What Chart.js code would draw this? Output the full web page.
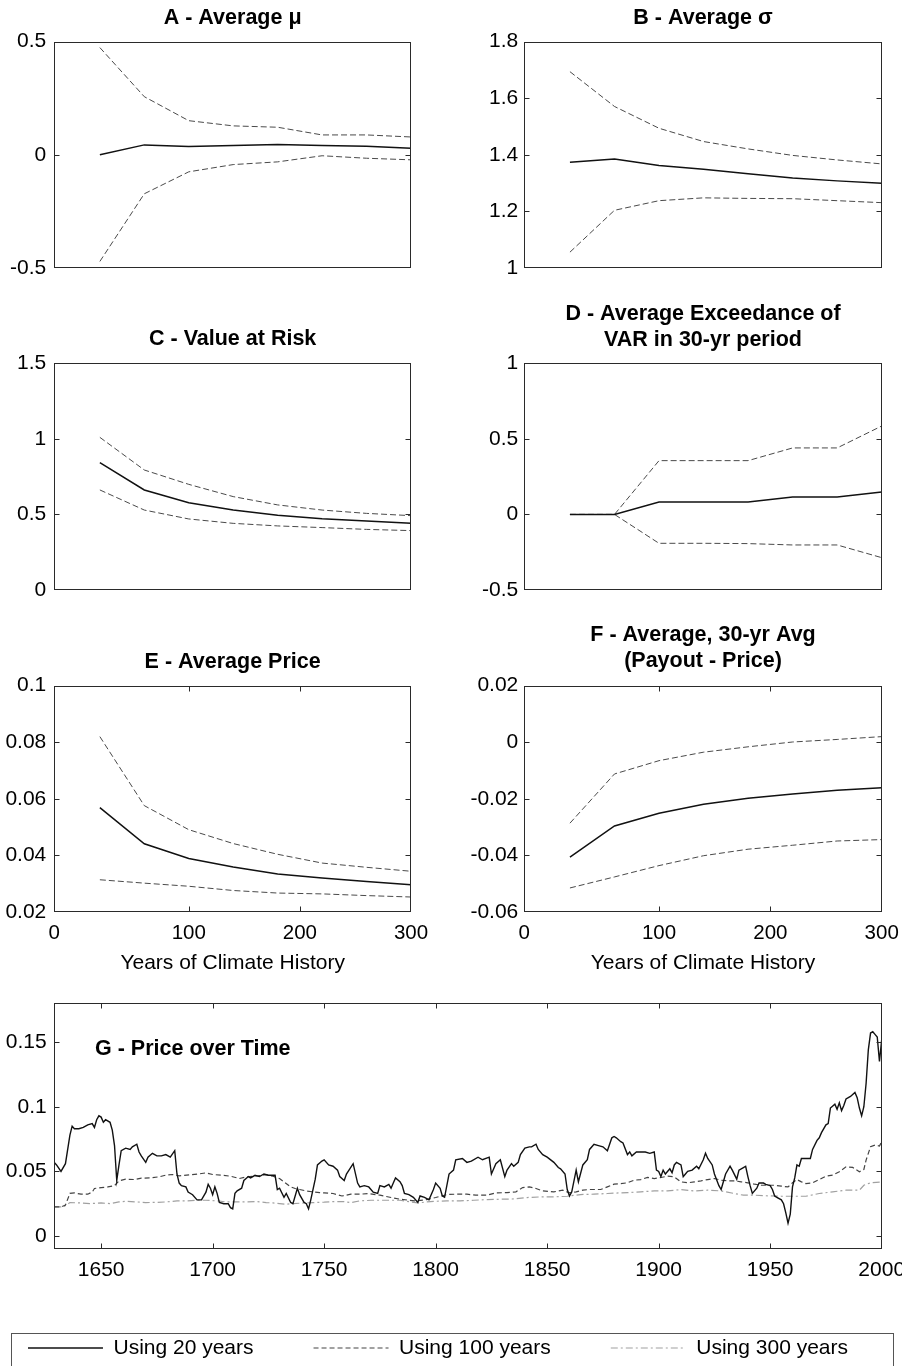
<!DOCTYPE html>
<html><head><meta charset="utf-8">
<script src="https://cdn.jsdelivr.net/npm/chart.js@4.4.1/dist/chart.umd.min.js"></script>
<style>
html,body{margin:0;padding:0;background:#fff;overflow:hidden;width:902px;height:1366px;position:relative;}
canvas{position:absolute;}
</style></head><body>
<canvas id="cA"></canvas><canvas id="cB"></canvas><canvas id="cC"></canvas>
<canvas id="cD"></canvas><canvas id="cE"></canvas><canvas id="cF"></canvas>
<canvas id="cG"></canvas>
<script>
// ---------------- DATA ----------------
const historyYears = [20, 60, 100, 140, 180, 220, 260, 300];
const panelXTickValues = [-21, 100, 200, 300];
const panelXTickLabels = ['0', '100', '200', '300'];

const muUpper = [0.474, 0.257, 0.151, 0.128, 0.122, 0.088, 0.088, 0.079];
const muMean  = [0.000, 0.044, 0.037, 0.041, 0.046, 0.041, 0.038, 0.029];
const muLower = [-0.471, -0.172, -0.075, -0.043, -0.031, -0.004, -0.015, -0.022];
const muTicks = [-0.5, 0, 0.5];
const muTickLabels = ['-0.5', '0', '0.5'];

const sigmaUpper = [1.694, 1.571, 1.494, 1.447, 1.421, 1.398, 1.382, 1.368];
const sigmaMean  = [1.374, 1.385, 1.362, 1.349, 1.333, 1.318, 1.308, 1.300];
const sigmaLower = [1.056, 1.204, 1.238, 1.248, 1.246, 1.245, 1.238, 1.231];
const sigmaTicks = [1, 1.2, 1.4, 1.6, 1.8];
const sigmaTickLabels = ['1', '1.2', '1.4', '1.6', '1.8'];

const varUpper = [1.010, 0.794, 0.699, 0.618, 0.563, 0.529, 0.507, 0.492];
const varMean  = [0.843, 0.662, 0.578, 0.529, 0.494, 0.472, 0.457, 0.441];
const varLower = [0.662, 0.529, 0.470, 0.441, 0.424, 0.413, 0.401, 0.393];
const varTicks = [0, 0.5, 1, 1.5];
const varTickLabels = ['0', '0.5', '1', '1.5'];

const excUpper = [0, 0, 0.356, 0.356, 0.356, 0.440, 0.440, 0.585];
const excMean  = [0, 0, 0.082, 0.082, 0.082, 0.115, 0.115, 0.148];
const excLower = [0, 0, -0.191, -0.191, -0.193, -0.202, -0.202, -0.286];
const excTicks = [-0.5, 0, 0.5, 1];
const excTickLabels = ['-0.5', '0', '0.5', '1'];

const priceUpper = [0.0820, 0.0576, 0.0491, 0.0442, 0.0404, 0.0373, 0.0358, 0.0344];
const priceMean  = [0.0569, 0.0441, 0.0389, 0.0359, 0.0334, 0.0320, 0.0308, 0.0296];
const priceLower = [0.0314, 0.0302, 0.0291, 0.0276, 0.0267, 0.0264, 0.0258, 0.0253];
const priceTicks = [0.02, 0.04, 0.06, 0.08, 0.1];
const priceTickLabels = ['0.02', '0.04', '0.06', '0.08', '0.1'];

const payUpper = [-0.0286, -0.0112, -0.0065, -0.0035, -0.0016, 0.0001, 0.0010, 0.0020];
const payMean  = [-0.0406, -0.0296, -0.0251, -0.0219, -0.0198, -0.0183, -0.0170, -0.0161];
const payLower = [-0.0515, -0.0476, -0.0436, -0.0401, -0.0378, -0.0364, -0.0349, -0.0344];
const payTicks = [-0.06, -0.04, -0.02, 0, 0.02];
const payTickLabels = ['-0.06', '-0.04', '-0.02', '0', '0.02'];

// Panel G: price over time
const gYears20 = [1629,1630,1632,1634,1636,1637,1638,1640,1642,1644,1646,1647,1648,1649,1650,1651,1652,1654,1655,1656,1657,1658,1659,1661,1663,1664,1666,1667,1668,1670,1671,1673,1675,1677,1679,1681,1683,1684,1685,1686,1688,1689,1691,1693,1695,1697,1698,1699,1700,1701,1702,1703,1705,1707,1708,1709,1710,1711,1713,1714,1716,1717,1719,1721,1723,1725,1727,1728,1729,1730,1732,1733,1735,1736,1738,1739,1741,1742,1743,1744,1746,1747,1749,1750,1752,1754,1756,1757,1759,1760,1763,1765,1766,1768,1770,1772,1774,1775,1777,1779,1780,1781,1782,1784,1785,1786,1788,1790,1792,1793,1795,1797,1799,1800,1802,1803,1804,1806,1808,1809,1812,1814,1816,1819,1821,1824,1825,1827,1829,1831,1832,1834,1835,1837,1838,1840,1842,1843,1845,1846,1848,1850,1853,1855,1856,1858,1859,1860,1861,1863,1864,1866,1868,1869,1871,1873,1875,1877,1879,1880,1881,1883,1884,1886,1887,1888,1890,1892,1894,1896,1898,1899,1900,1901,1902,1903,1905,1906,1907,1908,1910,1911,1912,1913,1915,1917,1918,1920,1921,1922,1924,1925,1927,1928,1929,1930,1932,1933,1935,1936,1938,1939,1940,1941,1942,1944,1945,1947,1948,1950,1951,1952,1953,1955,1956,1957,1958,1959,1960,1961,1962,1963,1964,1966,1968,1969,1971,1972,1973,1975,1976,1977,1979,1980,1981,1982,1983,1984,1986,1988,1989,1990,1991,1992,1993,1994,1995,1996,1997,1998,1999,2000];
const gPrice20 = [0.057,0.055,0.050,0.056,0.078,0.085,0.083,0.083,0.084,0.086,0.087,0.084,0.090,0.093,0.092,0.088,0.090,0.088,0.082,0.070,0.043,0.055,0.066,0.068,0.067,0.069,0.071,0.065,0.062,0.057,0.061,0.064,0.062,0.062,0.063,0.061,0.066,0.048,0.041,0.039,0.038,0.034,0.032,0.028,0.028,0.034,0.040,0.037,0.032,0.038,0.033,0.026,0.025,0.025,0.022,0.021,0.033,0.035,0.037,0.043,0.046,0.045,0.047,0.046,0.048,0.047,0.047,0.047,0.036,0.037,0.030,0.033,0.026,0.025,0.037,0.032,0.026,0.025,0.021,0.028,0.044,0.055,0.058,0.059,0.055,0.054,0.051,0.046,0.043,0.048,0.056,0.041,0.038,0.039,0.038,0.034,0.033,0.039,0.038,0.040,0.037,0.041,0.045,0.042,0.039,0.033,0.032,0.030,0.026,0.031,0.030,0.028,0.036,0.041,0.037,0.031,0.030,0.048,0.051,0.059,0.060,0.057,0.058,0.061,0.059,0.061,0.048,0.056,0.059,0.046,0.051,0.056,0.054,0.057,0.063,0.068,0.069,0.069,0.071,0.067,0.063,0.061,0.057,0.053,0.052,0.048,0.036,0.031,0.034,0.051,0.042,0.055,0.059,0.067,0.071,0.070,0.069,0.066,0.076,0.077,0.076,0.073,0.072,0.063,0.065,0.062,0.065,0.065,0.065,0.064,0.065,0.051,0.050,0.046,0.051,0.048,0.052,0.049,0.055,0.057,0.055,0.046,0.048,0.050,0.051,0.054,0.052,0.059,0.064,0.060,0.055,0.048,0.039,0.036,0.042,0.048,0.054,0.051,0.044,0.051,0.053,0.054,0.046,0.039,0.033,0.037,0.041,0.041,0.040,0.039,0.036,0.031,0.030,0.028,0.025,0.018,0.010,0.017,0.038,0.045,0.055,0.054,0.060,0.060,0.060,0.067,0.074,0.076,0.080,0.086,0.087,0.099,0.102,0.098,0.103,0.097,0.101,0.106,0.108,0.111,0.107,0.099,0.093,0.100,0.118,0.144,0.157,0.158,0.156,0.154,0.135,0.152];

const gYears100 = [1629,1632,1634,1636,1638,1641,1644,1646,1647,1650,1653,1656,1658,1661,1665,1668,1672,1676,1679,1682,1685,1690,1694,1697,1700,1704,1708,1712,1715,1720,1724,1727,1730,1732,1735,1737,1739,1742,1745,1748,1750,1754,1758,1762,1766,1770,1775,1780,1784,1788,1791,1796,1800,1805,1809,1814,1818,1823,1827,1832,1836,1839,1842,1845,1848,1853,1857,1860,1863,1866,1869,1874,1877,1880,1883,1886,1889,1892,1895,1898,1901,1904,1907,1910,1913,1916,1919,1922,1925,1928,1931,1934,1937,1940,1943,1946,1949,1952,1955,1958,1960,1962,1964,1966,1969,1972,1975,1978,1981,1984,1987,1990,1992,1993,1995,1997,1999,2000];
const gPrice100 = [0.0225,0.0225,0.0240,0.0330,0.0334,0.0324,0.0324,0.0340,0.0368,0.0375,0.0380,0.0390,0.0427,0.0440,0.0437,0.0448,0.0450,0.0458,0.0471,0.0476,0.0466,0.0474,0.0481,0.0489,0.0476,0.0471,0.0463,0.0445,0.0458,0.0466,0.0474,0.0463,0.0445,0.0419,0.0380,0.0368,0.0360,0.0349,0.0342,0.0336,0.0334,0.0329,0.0310,0.0324,0.0324,0.0329,0.0316,0.0298,0.0285,0.0277,0.0272,0.0282,0.0298,0.0321,0.0324,0.0324,0.0316,0.0316,0.0334,0.0336,0.0342,0.0375,0.0380,0.0368,0.0349,0.0342,0.0355,0.0334,0.0342,0.0355,0.0360,0.0360,0.0380,0.0401,0.0406,0.0412,0.0432,0.0437,0.0453,0.0445,0.0453,0.0463,0.0458,0.0419,0.0412,0.0419,0.0427,0.0437,0.0445,0.0432,0.0427,0.0427,0.0419,0.0412,0.0401,0.0393,0.0393,0.0393,0.0386,0.0380,0.0412,0.0437,0.0419,0.0406,0.0412,0.0437,0.0463,0.0471,0.0497,0.0536,0.0531,0.0497,0.0515,0.0587,0.0691,0.0704,0.0696,0.0730];

const gYears300 = [1629,1633,1636,1641,1645,1650,1654,1658,1661,1666,1670,1675,1679,1684,1688,1693,1697,1702,1706,1711,1715,1720,1724,1727,1730,1733,1736,1741,1745,1750,1754,1759,1762,1766,1771,1775,1780,1784,1789,1792,1796,1800,1805,1811,1817,1823,1829,1835,1841,1847,1853,1859,1865,1871,1877,1880,1886,1892,1898,1904,1910,1916,1922,1928,1934,1938,1943,1949,1955,1960,1966,1972,1978,1984,1990,1992,1995,2000];
const gPrice300 = [0.0225,0.0225,0.0259,0.0256,0.0251,0.0256,0.0251,0.0264,0.0269,0.0264,0.0259,0.0261,0.0264,0.0272,0.0272,0.0277,0.0277,0.0272,0.0264,0.0264,0.0264,0.0267,0.0259,0.0256,0.0251,0.0246,0.0251,0.0256,0.0259,0.0262,0.0266,0.0266,0.0259,0.0272,0.0277,0.0277,0.0277,0.0277,0.0264,0.0256,0.0264,0.0269,0.0272,0.0272,0.0277,0.0282,0.0285,0.0287,0.0298,0.0303,0.0303,0.0308,0.0321,0.0324,0.0329,0.0332,0.0336,0.0342,0.0349,0.0349,0.0360,0.0349,0.0355,0.0349,0.0329,0.0316,0.0316,0.0311,0.0308,0.0308,0.0308,0.0329,0.0342,0.0355,0.0355,0.0393,0.0412,0.0419];
const gYTicks = [0, 0.05, 0.1, 0.15];
const gYTickLabels = ['0', '0.05', '0.1', '0.15'];
const gXTicks = [1650, 1700, 1750, 1800, 1850, 1900, 1950, 2000];
const gXTickLabels = ['1650', '1700', '1750', '1800', '1850', '1900', '1950', '2000'];
const seriesLabels = ['Using 20 years', 'Using 100 years', 'Using 300 years'];

// ---------------- RENDERING ----------------
const FONT = '"Liberation Sans", Arial, Helvetica, sans-serif';
Chart.defaults.font.family = FONT;
Chart.defaults.color = '#000';
const toXY = (xs, ys) => xs.map((x, i) => ({x: x, y: ys[i]}));

const frameTicks = {
  id: 'frameTicks',
  afterDatasetsDraw(chart, args, opts) {
    const ctx = chart.ctx, a = chart.chartArea;
    const L = Math.round(a.left) + 0.5, R = Math.round(a.right) - 0.5;
    const T = Math.round(a.top) + 0.5, B = Math.round(a.bottom) - 0.5;
    ctx.save();
    ctx.setLineDash([]);
    ctx.strokeStyle = '#2a2a2a';
    ctx.lineWidth = 1;
    ctx.strokeRect(L, T, R - L, B - T);
    const len = 5;
    ctx.beginPath();
    const ys = chart.scales.y;
    ys.ticks.forEach(t => {
      const y = Math.round(ys.getPixelForValue(t.value)) + 0.5;
      if (y <= T + 1 || y >= B - 1) return;
      ctx.moveTo(L, y); ctx.lineTo(L + len, y);
      ctx.moveTo(R, y); ctx.lineTo(R - len, y);
    });
    const xs = chart.scales.x;
    (opts.xTicks || []).forEach(v => {
      const x = Math.round(xs.getPixelForValue(v)) + 0.5;
      ctx.moveTo(x, B); ctx.lineTo(x, B - len);
      ctx.moveTo(x, T); ctx.lineTo(x, T + len);
    });
    ctx.stroke();
    ctx.restore();
  }
};

function placeCanvas(id, left, top, w, h) {
  const cv = document.getElementById(id);
  cv.width = w; cv.height = h;
  cv.style.left = left + 'px'; cv.style.top = top + 'px';
  cv.style.width = w + 'px'; cv.style.height = h + 'px';
  return cv;
}

function panel(id, g, upper, mean, lower, yMin, yMax, yTicks, yTickLabels, title, showX) {
  const xH = 70, extraBottom = 22;
  const ch = showX ? (g.B + xH - g.ct) : (g.B + extraBottom - g.ct);
  const cv = placeCanvas(id, g.cl, g.ct, g.cw, ch);
  const lh = 26;
  const padTop = g.c1 - g.ct - lh / 2;
  const padBottom = g.T - g.ct - padTop - title.length * lh;
  const yW = g.L - g.cl;
  const padRight = g.cl + g.cw - g.R;
  new Chart(cv, {
    type: 'line',
    data: {
      datasets: [
        {label: 'mean', data: toXY(historyYears, mean), borderColor: '#111', borderWidth: 1.5, pointRadius: 0, tension: 0, fill: false},
        {label: 'upper', data: toXY(historyYears, upper), borderColor: '#4a4a4a', borderWidth: 1, borderDash: [6, 3], pointRadius: 0, tension: 0, fill: false},
        {label: 'lower', data: toXY(historyYears, lower), borderColor: '#4a4a4a', borderWidth: 1, borderDash: [6, 3], pointRadius: 0, tension: 0, fill: false}
      ]
    },
    options: {
      responsive: false, animation: false, events: [], devicePixelRatio: 1,
      layout: {autoPadding: false, padding: {left: 0, top: 0, right: padRight, bottom: showX ? 0 : extraBottom}},
      plugins: {
        legend: {display: false}, tooltip: {enabled: false},
        title: {display: true, text: title, fullSize: false, align: 'center', color: '#000',
          font: {size: 21.5, weight: 'bold', lineHeight: lh + 'px'},
          padding: {top: padTop, bottom: padBottom}},
        frameTicks: {xTicks: showX ? [100, 200] : []}
      },
      scales: {
        x: {
          type: 'linear', min: -21, max: 300, display: showX,
          afterBuildTicks: s => { s.ticks = panelXTickValues.map(v => ({value: v})); },
          afterFit: s => { s.height = showX ? xH : 0; s.paddingLeft = 0; s.paddingRight = 0; },
          ticks: {autoSkip: false, maxRotation: 0, padding: 9.3, font: {size: 20.5, lineHeight: '24px'}, color: '#000',
            callback: (v, i) => panelXTickLabels[i]},
          grid: {display: false, drawTicks: false}, border: {display: false},
          title: {display: showX, text: 'Years of Climate History', color: '#000', font: {size: 21, lineHeight: 1.2}, padding: {top: 0, bottom: 6.1}}
        },
        y: {
          type: 'linear', min: yMin, max: yMax,
          afterBuildTicks: s => { s.ticks = yTicks.map(v => ({value: v})); },
          afterFit: s => { s.width = yW; s.paddingTop = 0; s.paddingBottom = 0; },
          ticks: {padding: g.tp, font: {size: 21}, color: '#000', callback: (v, i) => yTickLabels[i]},
          grid: {display: false, drawTicks: false}, border: {display: false}
        }
      }
    },
    plugins: [frameTicks]
  });
}

const leftCol = {cl: 0, cw: 451, L: 54.3, R: 411, tp: 8};
const rightCol = {cl: 451, cw: 451, L: 524.3, R: 881.7, tp: 6};

panel('cA', Object.assign({}, leftCol, {ct: 0, c1: 18.3, T: 41.7, B: 268.3}), muUpper, muMean, muLower, -0.5, 0.5, muTicks, muTickLabels, ['A - Average \u03bc'], false);
panel('cB', Object.assign({}, rightCol, {ct: 0, c1: 18.3, T: 41.7, B: 268.3}), sigmaUpper, sigmaMean, sigmaLower, 1, 1.8, sigmaTicks, sigmaTickLabels, ['B - Average \u03c3'], false);
panel('cC', Object.assign({}, leftCol, {ct: 300, c1: 338.8, T: 363.3, B: 590}), varUpper, varMean, varLower, 0, 1.5, varTicks, varTickLabels, ['C - Value at Risk'], false);
panel('cD', Object.assign({}, rightCol, {ct: 290, c1: 313.6, T: 363.3, B: 590}), excUpper, excMean, excLower, -0.5, 1, excTicks, excTickLabels, ['D - Average Exceedance of', 'VAR in 30-yr period'], false);
panel('cE', Object.assign({}, leftCol, {ct: 640, c1: 661.7, T: 685.7, B: 912.3}), priceUpper, priceMean, priceLower, 0.02, 0.1, priceTicks, priceTickLabels, ['E - Average Price'], true);
panel('cF', Object.assign({}, rightCol, {ct: 612, c1: 635.5, T: 685.7, B: 912.3}), payUpper, payMean, payLower, -0.06, 0.02, payTicks, payTickLabels, ['F - Average, 30-yr Avg', '(Payout - Price)'], true);

// Panel G with legend
(function () {
  const shift = 42;            // canvas starts 42px left of the page
  const cTop = 985, cW = 960, cH = 384;
  const plotL = 54.3, plotR = 881.7, plotT = 1003.3;
  const cv = placeCanvas('cG', -shift, cTop, cW, cH);
  const gExtras = {
    id: 'gExtras',
    afterDraw(chart) {
      const ctx = chart.ctx, a = chart.chartArea;
      ctx.save();
      ctx.fillStyle = '#000';
      ctx.font = 'bold 21.5px ' + FONT;
      ctx.textAlign = 'left';
      ctx.textBaseline = 'middle';
      ctx.fillText('G - Price over Time', a.left + 40.7, a.top + 45.7);
      ctx.strokeStyle = '#555';
      ctx.lineWidth = 1;
      ctx.setLineDash([]);
      ctx.strokeRect(11 + shift + 0.5, 1333 - cTop + 0.5, 882, 120);
      ctx.restore();
    }
  };
  new Chart(cv, {
    type: 'line',
    data: {
      datasets: [
        {label: seriesLabels[0], data: toXY(gYears20, gPrice20), yAxisID: 'y', borderColor: '#111', backgroundColor: '#111', borderWidth: 1.4, borderDash: [], pointRadius: 0, tension: 0, fill: false},
        {label: seriesLabels[1], data: toXY(gYears100, gPrice100), yAxisID: 'y', borderColor: '#444', backgroundColor: '#444', borderWidth: 1.2, borderDash: [5, 3], pointRadius: 0, tension: 0, fill: false},
        {label: seriesLabels[2], data: toXY(gYears300, gPrice300), yAxisID: 'y', borderColor: '#a0a0a0', backgroundColor: '#a0a0a0', borderWidth: 1.2, borderDash: [7, 3, 2, 3], pointRadius: 0, tension: 0, fill: false}
      ]
    },
    options: {
      responsive: false, animation: false, events: [], devicePixelRatio: 1,
      layout: {autoPadding: false, padding: {left: 0, right: 0, top: plotT - cTop, bottom: 0.5}},
      plugins: {
        tooltip: {enabled: false}, title: {display: false},
        legend: {display: true, position: 'bottom',
          labels: {usePointStyle: true, pointStyle: 'line', pointStyleWidth: 75, padding: 60, color: '#000', font: {size: 21},
            generateLabels: chart => {
              const items = Chart.defaults.plugins.legend.labels.generateLabels(chart);
              items.forEach((it, i) => {
                const ds = chart.data.datasets[i];
                it.lineDash = ds.borderDash || [];
                it.lineWidth = ds.borderWidth;
                it.strokeStyle = ds.borderColor;
                it.fillStyle = ds.borderColor;
                it.pointStyle = 'line';
              });
              return items;
            }}},
        frameTicks: {xTicks: [1650, 1700, 1750, 1800, 1850, 1900, 1950]}
      },
      scales: {
        x: {
          type: 'linear', min: 1629, max: 2000,
          afterBuildTicks: s => { s.ticks = gXTicks.map(v => ({value: v})); },
          afterFit: s => { s.height = 28.5; s.paddingLeft = 0; s.paddingRight = 0; },
          ticks: {autoSkip: false, maxRotation: 0, padding: 9.7, font: {size: 21, lineHeight: '24px'}, color: '#000', callback: (v, i) => gXTickLabels[i]},
          grid: {display: false, drawTicks: false}, border: {display: false}
        },
        y: {
          type: 'linear', position: 'left', min: -0.01, max: 0.18,
          afterBuildTicks: s => { s.ticks = gYTicks.map(v => ({value: v})); },
          afterFit: s => { s.width = plotL + shift; s.paddingTop = 0; s.paddingBottom = 0; },
          ticks: {padding: 7.6, font: {size: 21}, color: '#000', callback: (v, i) => gYTickLabels[i]},
          grid: {display: false, drawTicks: false}, border: {display: false}
        },
        y2: {
          type: 'linear', position: 'right', min: 0, max: 1,
          afterFit: s => { s.width = cW - (plotR + shift); s.paddingTop = 0; s.paddingBottom = 0; },
          ticks: {display: false}, grid: {display: false, drawTicks: false}, border: {display: false}
        }
      }
    },
    plugins: [frameTicks, gExtras]
  });
})();
</script>
</body></html>
